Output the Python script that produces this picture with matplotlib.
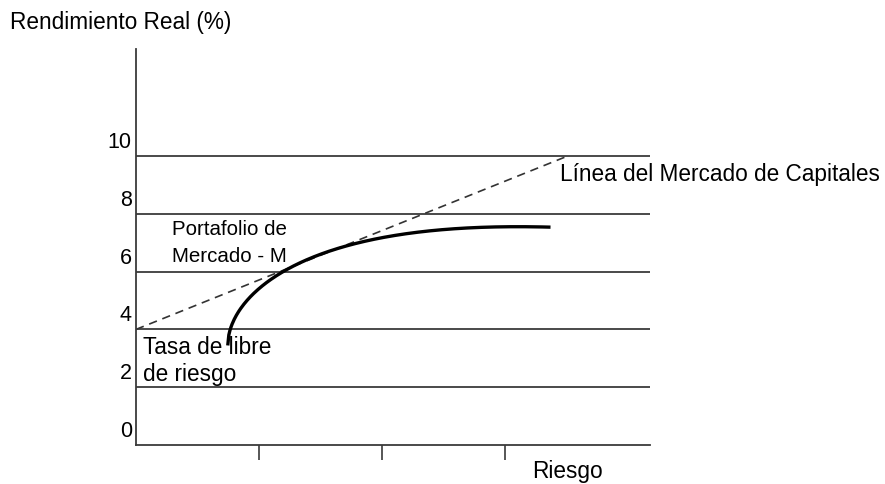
import numpy as np
import matplotlib
matplotlib.use('Agg')
from matplotlib import pyplot as plt
import matplotlib.transforms as mtransforms

plt.rcParams['font.family'] = ['Liberation Sans', 'DejaVu Sans']

# y tick labels and the horizontal reference lines
y_ticks = [0, 2, 4, 6, 8, 10]
levels = [2, 4, 6, 8, 10]
x_ticks = [1, 2, 3]

# capital market line (dashed): from risk free rate up to the right
cml_x = [0.0, 3.51]
cml_y = [4.0, 10.0]

# efficient frontier (solid curve)
front_x = [0.746, 0.764, 0.805, 0.886, 0.994, 1.13, 1.29, 1.48, 1.67, 1.78,
           2.01, 2.41, 2.82, 3.10, 3.37]
front_y = [3.49, 3.90, 4.36, 4.94, 5.46, 5.86, 6.20, 6.55, 6.78, 6.95,
           7.20, 7.44, 7.54, 7.58, 7.51]

x_end = 4.18

fig = plt.figure(figsize=(8.85, 4.85), dpi=100)
ax = fig.add_axes([136/885, 39/485, (680-136)/885, (446-50)/485])
ax.set_xlim(0, (680-136)/123)
ax.set_ylim(0, (446-50)/28.9)

lc = '#3a3a3a'
ax.hlines(levels, 0, x_end, color=lc, lw=1.3)
ax.plot(cml_x, cml_y, color='#333333', lw=1.2, ls=(0, (5, 3.5)))

# smooth the hand read points (least squares in sqrt space)
fxa = np.array(front_x)
fya = np.array(front_y)
u = np.sqrt(fxa - fxa[0])
c = np.polyfit(u, fya, 4)
xx = np.linspace(fxa[0], fxa[-1], 300)
yy = np.polyval(c, np.sqrt(xx - fxa[0]))
ax.plot(xx, yy, color='black', lw=2.4, solid_capstyle='butt')

for s in ['top', 'right']:
    ax.spines[s].set_visible(False)
ax.spines['left'].set_color(lc)
ax.spines['bottom'].set_color(lc)
ax.spines['left'].set_linewidth(1.3)
ax.spines['bottom'].set_linewidth(1.3)
ax.spines['bottom'].set_bounds(0, x_end)

ax.set_xticks(x_ticks)
ax.set_xticklabels([])
ax.tick_params(axis='x', direction='out', length=11, width=1.2, color=lc)

ax.set_yticks(y_ticks)
ax.set_yticklabels([str(v) for v in y_ticks], fontsize=15.5)
ax.tick_params(axis='y', length=0, pad=3)
off = mtransforms.ScaledTranslation(0, 17/100, fig.dpi_scale_trans)
for lab in ax.get_yticklabels():
    lab.set_transform(lab.get_transform() + off)

fs = 16.3
fig.text(10/885, 1 - 22/485, 'Rendimiento Real (%)', fontsize=fs, va='center', ha='left')
fig.text(172/885, 1 - 230/485, 'Portafolio de', fontsize=14.8, va='center', ha='left')
fig.text(172/885, 1 - 256/485, 'Mercado - M', fontsize=14.8, va='center', ha='left')
fig.text(143/885, 1 - 347/485, 'Tasa de libre', fontsize=fs, va='center', ha='left')
fig.text(143/885, 1 - 375/485, 'de riesgo', fontsize=fs, va='center', ha='left')
fig.text(560/885, 1 - 175/485, 'Línea del Mercado de Capitales', fontsize=fs, va='center', ha='left')
fig.text(532/885, 1 - 472/485, 'Riesgo', fontsize=fs, va='center', ha='left')

fig.savefig('out.png', dpi=100)
